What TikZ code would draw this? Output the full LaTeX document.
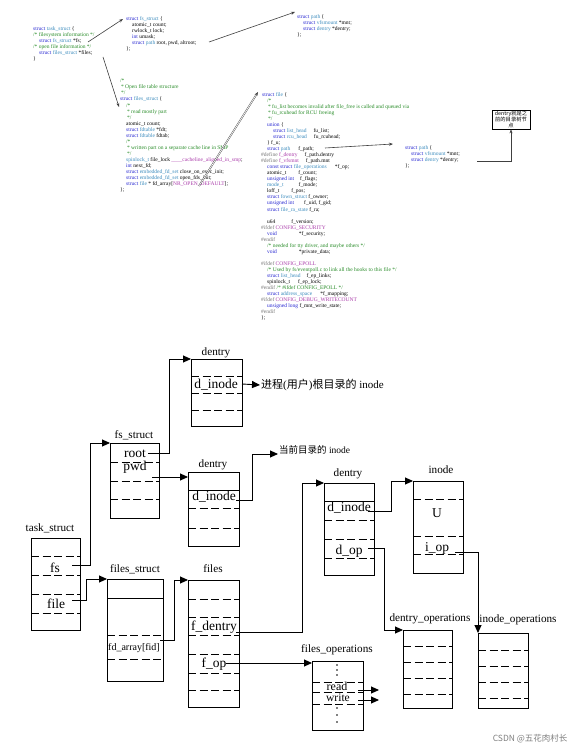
\documentclass[tikz,border=0pt]{standalone}
\usepackage{fontspec}
\setmainfont{Liberation Serif}
\newfontfamily\cjk{Noto Sans CJK SC}
\usepackage{xcolor}
\usetikzlibrary{arrows.meta,positioning,calc}
\definecolor{kwblue}{RGB}{40,40,210}
\definecolor{tyblue}{RGB}{60,140,190}
\definecolor{cmgreen}{RGB}{40,140,40}
\definecolor{mcpurple}{RGB}{170,60,170}
\definecolor{ppgray}{RGB}{120,120,120}
\newcommand{\ckw}[1]{\textcolor{kwblue}{#1}}
\newcommand{\cty}[1]{\textcolor{tyblue}{#1}}
\newcommand{\ccm}[1]{\textcolor{cmgreen}{#1}}
\newcommand{\cmc}[1]{\textcolor{mcpurple}{#1}}
\newcommand{\cpp}[1]{\textcolor{ppgray}{#1}}
\newcommand{\indt}{\hspace*{6pt}}
\newcommand{\codefont}{\fontsize{5.5}{6.05}\selectfont}
\tikzset{
  code/.style={font=\codefont, align=left, anchor=north west, inner sep=0pt},
  codearrow/.style={-{Stealth[length=4pt,width=3pt]}, line width=0.6pt, black!75},
  note/.style={draw, line width=0.7pt, font=\cjk\fontsize{5.3}{6.2}\selectfont,
               align=center, inner sep=0.8pt},
  sbox/.style={rectangle, draw, line width=0.9pt, anchor=north west, inner sep=0pt},
  rowsep/.style={line width=1pt, dash pattern=on 8pt off 3.5pt},
  rowline/.style={line width=0.7pt},
  slabel/.style={font=\fontsize{11.2}{12}\selectfont, anchor=base, inner sep=0pt},
  field/.style={font=\fontsize{13.5}{14}\selectfont, anchor=base, inner sep=0pt},
  link/.style={-{Triangle[length=8pt,width=7pt]}, line width=0.9pt},
  dot/.style={circle, fill, inner sep=0pt, minimum size=1.8pt},
}
\begin{document}
\begin{tikzpicture}[x=1pt, y=-1pt]
  \fill[white] (0,0) rectangle (579,749);
  \useasboundingbox (0,0) rectangle (579,749);

  % kernel source snippets
  \node[code] (task) at (33,26) {\ckw{struct} \cty{task\_struct} \{\\
    \ccm{/* filesystem information */}\\
    \indt\ckw{struct} \cty{fs\_struct} *fs;\\
    \ccm{/* open file information */}\\
    \indt\ckw{struct} \cty{files\_struct} *files;\\
    \}};
  \node[code] (fsst) at (126,16) {\ckw{struct} \cty{fs\_struct} \{\\
    \indt atomic\_t count;\\
    \indt rwlock\_t lock;\\
    \indt\ckw{int} umask;\\
    \indt\ckw{struct} \cty{path} root, pwd, altroot;\\
    \};};
  \node[code] (path1) at (297,14) {\ckw{struct} \cty{path} \{\\
    \indt\ckw{struct} \cty{vfsmount} *mnt;\\
    \indt\ckw{struct} \cty{dentry} *dentry;\\
    \};};
  \node[code] (filesst) at (120,79) {\ccm{/*}\\
    \ccm{\,* Open file table structure}\\
    \ccm{\,*/}\\
    \ckw{struct} \cty{files\_struct} \{\\
    \indt\ccm{/*}\\
    \indt\ccm{\,* read mostly part}\\
    \indt\ccm{\,*/}\\
    \indt atomic\_t count;\\
    \indt\ckw{struct} \cty{fdtable} *fdt;\\
    \indt\ckw{struct} \cty{fdtable} fdtab;\\
    \indt\ccm{/*}\\
    \indt\ccm{\,* written part on a separate cache line in SMP}\\
    \indt\ccm{\,*/}\\
    \indt\cty{spinlock\_t} file\_lock \cmc{\_\_\_\_cacheline\_aligned\_in\_smp};\\
    \indt\ckw{int} next\_fd;\\
    \indt\ckw{struct} \cty{embedded\_fd\_set} close\_on\_exec\_init;\\
    \indt\ckw{struct} \cty{embedded\_fd\_set} open\_fds\_init;\\
    \indt\ckw{struct} \cty{file} * fd\_array[\cmc{NR\_OPEN\_DEFAULT}];\\
    \};};
  \node[code] (file) at (261,92) {\hspace*{1pt}\ckw{struct} \cty{file} \{\\
    \indt\ccm{/*}\\
    \indt\ccm{\,* fu\_list becomes invalid after file\_free is called and queued via}\\
    \indt\ccm{\,* fu\_rcuhead for RCU freeing}\\
    \indt\ccm{\,*/}\\
    \indt\ckw{union} \{\\
    \indt\indt\ckw{struct} \cty{list\_head}\hspace{7pt}fu\_list;\\
    \indt\indt\ckw{struct} \cty{rcu\_head}\hspace{7pt}fu\_rcuhead;\\
    \indt\} f\_u;\\
    \indt\ckw{struct} \cty{path}\hspace{8pt}f\_path;\\
    \cpp{\#define} \cmc{f\_dentry}\hspace{7pt}f\_path.dentry\\
    \cpp{\#define} \cmc{f\_vfsmnt}\hspace{7pt}f\_path.mnt\\
    \indt\ckw{const struct} \cty{file\_operations}\hspace{8pt}*f\_op;\\
    \indt atomic\_t\hspace{12pt}f\_count;\\
    \indt\ckw{unsigned int}\hspace{6pt}f\_flags;\\
    \indt\cty{mode\_t}\hspace{15pt}f\_mode;\\
    \indt loff\_t\hspace{12pt}f\_pos;\\
    \indt\ckw{struct} \cty{fown\_struct} f\_owner;\\
    \indt\ckw{unsigned int}\hspace{10pt}f\_uid, f\_gid;\\
    \indt\ckw{struct} \cty{file\_ra\_state} f\_ra;\\
    \mbox{}\\
    \indt u64\hspace{16pt}f\_version;\\
    \cpp{\#ifdef} \cmc{CONFIG\_SECURITY}\\
    \indt\ckw{void}\hspace{22pt}*f\_security;\\
    \cpp{\#endif}\\
    \indt\ccm{/* needed for tty driver, and maybe others */}\\
    \indt\ckw{void}\hspace{22pt}*private\_data;\\
    \mbox{}\\
    \cpp{\#ifdef} \cmc{CONFIG\_EPOLL}\\
    \indt\ccm{/* Used by fs/eventpoll.c to link all the hooks to this file */}\\
    \indt\ckw{struct} \cty{list\_head}\hspace{6pt}f\_ep\_links;\\
    \indt spinlock\_t\hspace{8pt}f\_ep\_lock;\\
    \cpp{\#endif} \ccm{/* \#ifdef CONFIG\_EPOLL */}\\
    \indt\ckw{struct} \cty{address\_space}\hspace{8pt}*f\_mapping;\\
    \cpp{\#ifdef} \cmc{CONFIG\_DEBUG\_WRITECOUNT}\\
    \indt\ckw{unsigned long} f\_mnt\_write\_state;\\
    \cpp{\#endif}\\
    \};};
  \node[code] (path2) at (405,145.5) {\ckw{struct} \cty{path} \{\\
    \indt\ckw{struct} \cty{vfsmount} *mnt;\\
    \indt\ckw{struct} \cty{dentry} *dentry;\\
    \};};
  \node[note, minimum width=38pt, minimum height=19pt] (note) at (511,119.5)
    {dentry就是之\\前的目录树节\\点};

  \coordinate (fsptr) at (88,42);
  \coordinate (filesptr) at (103,57);
  \coordinate (pathptr) at (209,42);
  \coordinate (fdptr) at (199,186);
  \coordinate (fpathptr) at (325,148);
  \coordinate (dentptr) at (477,161);
  \draw[codearrow] (fsptr) -- ([shift={(-3pt,-3pt)}]fsst.north west);
  \draw[codearrow] (filesptr) -- ([shift={(-1pt,-28pt)}]filesst.north west);
  \draw[codearrow] (pathptr) -- ([shift={(-2pt,2pt)}]path1.north west);
  \draw[codearrow, double=white, double distance=0.7pt, line width=0.4pt]
    (fdptr) -- ([xshift=-3pt]file.north west);
  \draw[codearrow] (fpathptr) -- ([shift={(-12pt,1.5pt)}]path2.north west);
  \draw[codearrow] (dentptr) -| (note.south);

  % task_struct
  \node[sbox, minimum width=49pt, minimum height=92pt] (task2) at (31,538) {};
  \node[slabel] (taskl) at (50,531) {task\_struct};
  \foreach \y in {556,575,594,613} \draw[rowsep] (task2.west |- 0,\y) -- (task2.east |- 0,\y);
  \node[field] (tfs) at (55,572) {fs};
  \node[field] (tfile) at (56,608) {file};

  % fs_struct
  \node[sbox, minimum width=49pt, minimum height=75pt] (fs) at (110,443) {};
  \node[slabel] (fsl) at (134,438) {fs\_struct};
  \foreach \y in {462,481,499} \draw[rowsep] (fs.west |- 0,\y) -- (fs.east |- 0,\y);
  \node[field] (froot) at (135,457) {root};
  \node[field] (fpwd) at (135,470) {pwd};

  % dentry of root
  \node[sbox, minimum width=51pt, minimum height=67pt] (droot) at (191,359) {};
  \node[slabel] (drootl) at (216,355) {dentry};
  \foreach \y in {376,393,410} \draw[rowsep] (droot.west |- 0,\y) -- (droot.east |- 0,\y);
  \node[field] (drino) at (216,388) {d\_inode};
  \node[anchor=west, inner sep=1pt, font=\fontsize{11}{12}\selectfont] (rtext) at (260,385)
    {{\cjk 进程}({\cjk 用户}){\cjk 根目录的} inode};

  % dentry of pwd
  \node[sbox, minimum width=51pt, minimum height=74pt] (dpwd) at (188,472) {};
  \node[slabel] (dpwdl) at (213,467) {dentry};
  \draw[rowline] (dpwd.west |- 0,490) -- (dpwd.east |- 0,490);
  \foreach \y in {508,528} \draw[rowsep] (dpwd.west |- 0,\y) -- (dpwd.east |- 0,\y);
  \node[field] (dpino) at (214,500) {d\_inode};
  \node[anchor=west, inner sep=1pt, font=\fontsize{9.5}{11}\selectfont] (ctext) at (278,450)
    {{\cjk 当前目录的} inode};

  % files_struct
  \node[sbox, minimum width=56pt, minimum height=102pt] (fst) at (107,579) {};
  \node[slabel] (fstl) at (135,572) {files\_struct};
  \draw[rowline] (fst.west |- 0,598) -- (fst.east |- 0,598);
  \foreach \y in {635,659} \draw[rowsep] (fst.west |- 0,\y) -- (fst.east |- 0,\y);
  \node[field, font=\fontsize{10}{11}\selectfont] (fdarr) at (134,650) {fd\_array[fid]};

  % files
  \node[sbox, minimum width=51pt, minimum height=127pt] (fl) at (188,580) {};
  \node[slabel] (fll) at (213,572) {files};
  \foreach \y in {599,617,635,654,673,690} \draw[rowsep] (fl.west |- 0,\y) -- (fl.east |- 0,\y);
  \node[field] (fdent) at (214,630) {f\_dentry};
  \node[field] (fop) at (214,667) {f\_op};

  % dentry of the file
  \node[sbox, minimum width=50pt, minimum height=92pt] (dcur) at (324,483) {};
  \node[slabel] (dcurl) at (348,476) {dentry};
  \draw[rowline] (dcur.west |- 0,501) -- (dcur.east |- 0,501);
  \foreach \y in {520,539,558} \draw[rowsep] (dcur.west |- 0,\y) -- (dcur.east |- 0,\y);
  \node[field] (dcino) at (349,511) {d\_inode};
  \node[field] (dcop) at (349,554) {d\_op};

  % inode
  \node[sbox, minimum width=50pt, minimum height=92pt] (ind) at (413,481) {};
  \node[slabel] (indl) at (441,473) {inode};
  \foreach \y in {499,536,554} \draw[rowsep] (ind.west |- 0,\y) -- (ind.east |- 0,\y);
  \node[field] (iu) at (437,517) {U};
  \node[field] (iop) at (437,551) {i\_op};

  % operation tables
  \node[sbox, minimum width=49pt, minimum height=78pt] (dops) at (403,630) {};
  \node[slabel] (dopsl) at (430,621) {dentry\_operations};
  \foreach \y in {646,662,678,694} \draw[rowsep] (dops.west |- 0,\y) -- (dops.east |- 0,\y);
  \node[sbox, minimum width=50pt, minimum height=75pt] (iops) at (478,633) {};
  \node[slabel] (iopsl) at (518,622) {inode\_operations};
  \foreach \y in {650,666,682,698} \draw[rowsep] (iops.west |- 0,\y) -- (iops.east |- 0,\y);
  \node[sbox, minimum width=51pt, minimum height=69pt] (fops) at (312,661) {};
  \node[slabel] (fopsl) at (337,652) {files\_operations};
  \foreach \y in {682,692,704} \draw[rowsep] (fops.west |- 0,\y) -- (fops.east |- 0,\y);
  \foreach \y in {665,670,675,708,715,722} \node[dot] at (337,\y) {};
  \node[field, font=\fontsize{12}{12}\selectfont] (fread) at (337,690) {read};
  \node[field, font=\fontsize{11.5}{12}\selectfont] (fwrite) at (338,701) {write};

  % pointers between the structures
  \coordinate (fsout) at (72,565);
  \coordinate (fileout) at (72,600);
  \coordinate (rootout) at (148,453);
  \coordinate (pwdout) at (152,477);
  \coordinate (drout) at (242,384);
  \coordinate (dpout) at (236,500);
  \coordinate (fdaout) at (160,640);
  \coordinate (fdeout) at (236,632);
  \coordinate (fopout) at (226,663);
  \coordinate (dciout) at (368,511);
  \coordinate (dcoout) at (368,548);
  \coordinate (iopout) at (455,552);
  \coordinate (rdout) at (358,690);
  \coordinate (rdend) at (379,690);
  \coordinate (wrout) at (358,700);
  \coordinate (wrend) at (379,700);
  \draw[link] (fsout) -| ([xshift=-20pt]fs.north west) -- (fs.north west);
  \draw[link] (fileout) -| ([xshift=-21pt]fst.north west) -- (fst.north west);
  \draw[link] (rootout) -| ([xshift=-22pt]droot.north west) -- (droot.north west);
  \draw[link] (pwdout) -- (dpwd.west |- pwdout);
  \draw[link] (drout) -- (rtext.west);
  \draw[link] (dpout) -| ([shift={(-26pt,-4pt)}]ctext.west) -- ([yshift=-4pt]ctext.west);
  \draw[link] (fdaout) -| ([xshift=-14pt]fl.north west) -- (fl.north west);
  \draw[link] (fdeout) -| ([xshift=-22pt]dcur.north west) -- (dcur.north west);
  \draw[link] (fopout) -- (fops.west |- fopout);
  \draw[link] (dciout) -| ([xshift=-22pt]ind.north west) -- (ind.north west);
  \draw[link] (dcoout) -| ([xshift=-19pt]dops.north west) -- (dops.north west);
  \draw[link] (iopout) -| (iops.north west);
  \draw[link] (rdout) -- (rdend);
  \draw[link] (wrout) -- (wrend);

  \node[anchor=east, text=gray, font=\cjk\fontsize{8.5}{10}\selectfont] (mark) at (571,739)
    {CSDN @五花肉村长};
\end{tikzpicture}
\end{document}
